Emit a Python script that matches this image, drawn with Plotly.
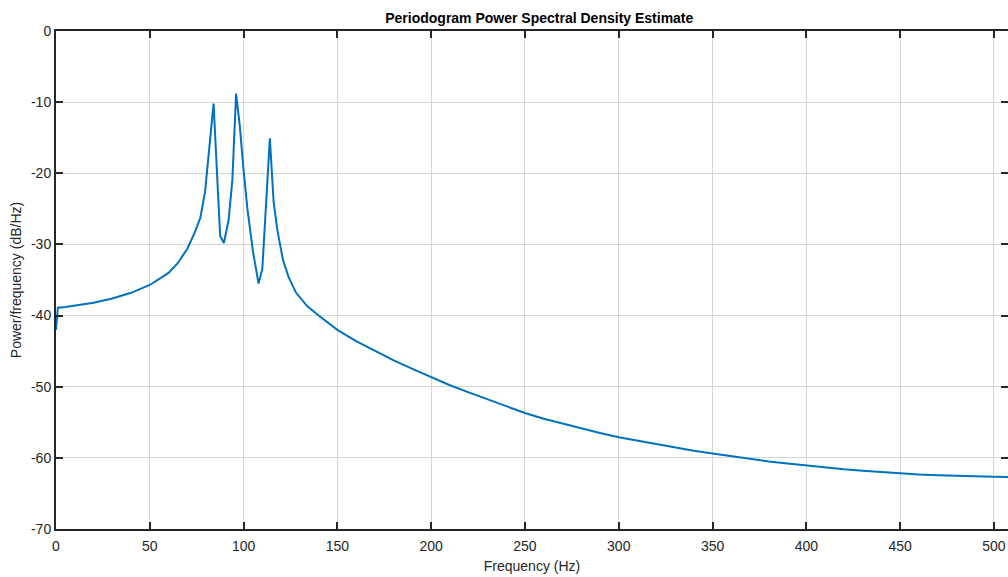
import plotly.graph_objects as go

# frequency (Hz) and PSD (dB/Hz)
freq = [0, 1, 5, 10, 20, 30, 40, 50, 60, 65, 70, 74, 77, 79.5, 81.5, 84,
        87.5, 89.5, 92, 94, 96, 98, 100, 102, 105, 108, 110, 114, 116, 118,
        121, 124, 128, 134, 140, 150, 160, 170, 180, 190, 200, 210, 220, 230,
        240, 250, 260, 270, 280, 290, 300, 310, 320, 330, 340, 350, 360, 370,
        380, 390, 400, 410, 420, 430, 440, 450, 460, 470, 480, 490, 500, 512]
psd = [-42.0, -38.9, -38.8, -38.6, -38.2, -37.6, -36.8, -35.7, -34.0, -32.6,
       -30.6, -28.3, -26.2, -22.5, -17.0, -10.2,
       -28.8, -29.8, -26.6, -21.0, -8.8, -13.4, -19.6, -24.9, -31.0, -35.5,
       -33.4, -15.1, -24.0, -28.0,
       -32.2, -34.6, -36.8, -38.7, -40.0, -42.0, -43.6, -45.0, -46.3, -47.5,
       -48.7, -49.8, -50.8, -51.8,
       -52.8, -53.7, -54.5, -55.2, -55.9, -56.5, -57.1, -57.6, -58.1, -58.6,
       -59.0, -59.4, -59.8, -60.2,
       -60.5, -60.8, -61.1, -61.35, -61.6, -61.8, -62.0, -62.2, -62.35, -62.45,
       -62.55, -62.6, -62.65, -62.7]

xticks = [0, 50, 100, 150, 200, 250, 300, 350, 400, 450, 500]
yticks = [0, -10, -20, -30, -40, -50, -60, -70]
ylabels = ['0', '-10', '-20', '-30', '-40', '-50', '-60', '-70']

axis_col = '#262626'
grid_col = '#d6d6d6'

fig = go.Figure(go.Scatter(x=freq, y=psd, mode='lines',
                           line=dict(color='#0072BD', width=2)))

fig.update_layout(
    width=1008, height=577,
    margin=dict(l=56, r=0, t=31, b=48),
    plot_bgcolor='white', paper_bgcolor='white',
    showlegend=False,
    font=dict(family='Liberation Sans, Arial', size=14, color=axis_col),
    title=dict(text='<b>Periodogram Power Spectral Density Estimate</b>',
               x=0.535, xanchor='center', y=0.968, yanchor='middle',
               font=dict(family='Liberation Sans Narrow, Liberation Sans', size=14, color='black')),
)

fig.update_xaxes(
    range=[0, 507.5], tickvals=xticks, automargin=False,
    showgrid=True, gridcolor=grid_col, gridwidth=1,
    showline=True, linecolor=axis_col, linewidth=2, mirror='ticks',
    ticks='inside', ticklen=7, tickwidth=2, tickcolor=axis_col,
    ticklabelstandoff=3,
    zeroline=False,
    title=dict(text='Frequency (Hz)', standoff=8, font=dict(size=14)),
)

fig.update_yaxes(
    range=[-70, 0], tickvals=yticks, ticktext=ylabels, automargin=False,
    showgrid=True, gridcolor=grid_col, gridwidth=1,
    showline=True, linecolor=axis_col, linewidth=2, mirror='ticks',
    ticks='inside', ticklen=7, tickwidth=2, tickcolor=axis_col,
    zeroline=False,
    title=dict(text='Power/frequency (dB/Hz)', standoff=6, font=dict(size=14)),
)

fig.write_html("out.html", config={'displayModeBar': False},
               post_script="document.body.style.margin='0';")
